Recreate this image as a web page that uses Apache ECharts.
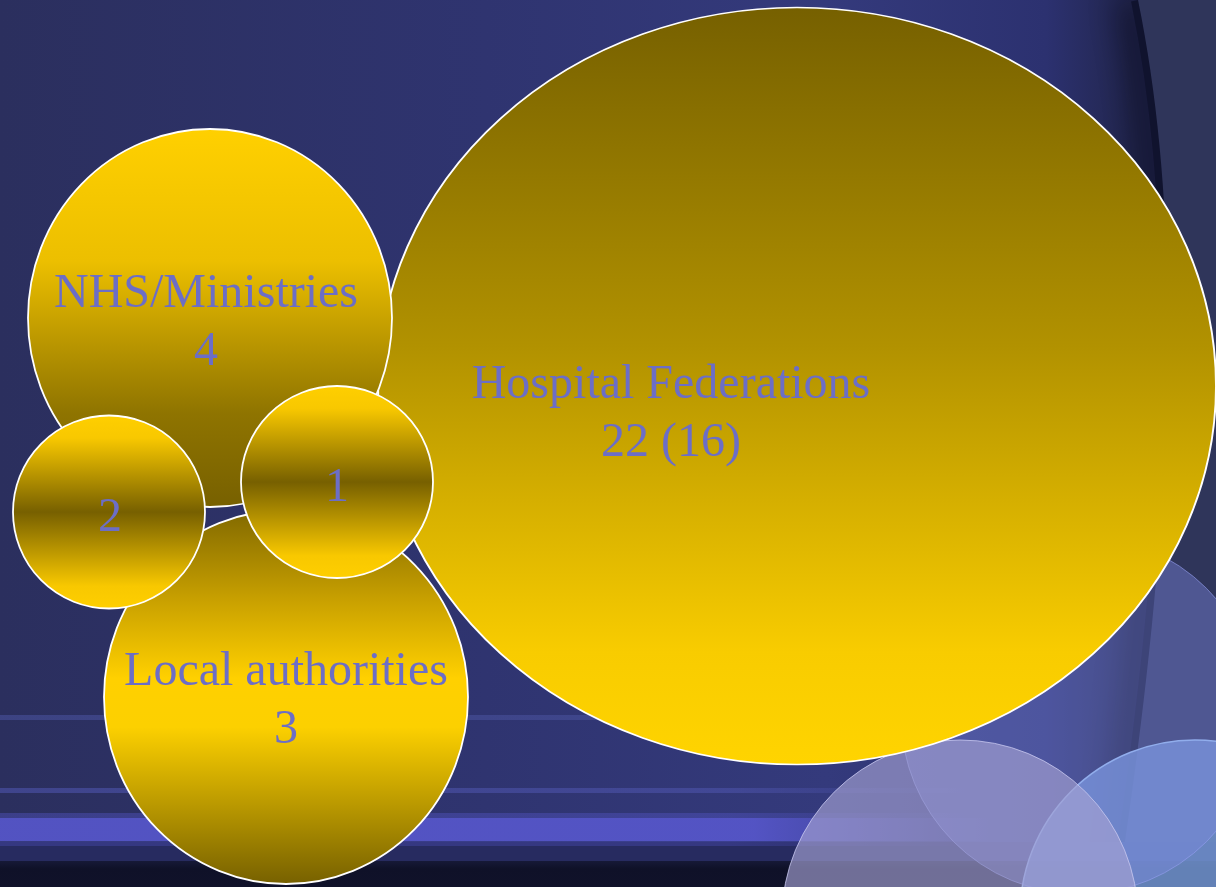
<!DOCTYPE html>
<html>
<head>
<meta charset="utf-8">
<title>Federations bubbles</title>
<script src="https://cdn.jsdelivr.net/npm/echarts@6/dist/echarts.min.js"></script>
<style>
html, body { margin: 0; padding: 0; background: #2c305f; }
#chart { width: 1216px; height: 887px; }
</style>
</head>
<body>
<div id="chart"></div>
<script>
// bubble data
var names = ['Hospital Federations', 'NHS/Ministries', 'Local authorities', '', ''];
var counts = [22, 4, 3, 2, 1];
var earlierCounts = [16, null, null, null, null];   // the "(16)" shown next to 22
// where each bubble sits on the hidden layout axes
var layoutX = [797, 210, 286, 109, 337];
var layoutY = [386, 318, 697, 512, 482];

// looks
var bubbleSize = [[838, 757], [364, 378], [364, 374], [192, 193], [192, 192]];
var labelOffset = [[-126, 28], [-4, 5], [0, 4], [1, 6], [0, 6]];

function vgrad(stops) {
    return new echarts.graphic.LinearGradient(0, 0, 0, 1, stops.map(function (s) {
        return { offset: s[0], color: s[1] };
    }));
}
function hfade(color, from, to) {
    return { type: 'linear', x: 0, y: 0, x2: 1, y2: 0, colorStops: [
        { offset: 0, color: color }, { offset: from, color: color },
        { offset: to, color: color.replace(/[\d.]+\)$/, '0)') }, { offset: 1, color: color.replace(/[\d.]+\)$/, '0)') }] };
}
var smallFill = [[0, '#ffcf00'], [0.12, '#f8c800'], [0.5, '#776000'], [0.88, '#f8c800'], [1, '#ffcf00']];
var fills = [
    vgrad([[0, '#766000'], [0.45, '#b29200'], [0.85, '#f8cc00'], [1, '#ffd400']]),
    vgrad([[0, '#ffd000'], [0.35, '#ecbf00'], [0.75, '#8f7400'], [1, '#776000']]),
    vgrad([[0, '#806800'], [0.24, '#c8a000'], [0.45, '#ffd000'], [0.58, '#fcd000'], [1, '#766000']]),
    vgrad(smallFill),
    vgrad(smallFill)
];

var dom = document.getElementById('chart');
var myChart = echarts.init(dom);

var bubbles = names.map(function (n, i) {
    return {
        name: n,
        value: [layoutX[i], layoutY[i], counts[i]],
        symbolSize: bubbleSize[i],
        itemStyle: { color: fills[i] },
        label: { offset: labelOffset[i] }
    };
});

// the dark curved fold on the right of the slide
var curve = { x1: 1138, y1: 0, cpx1: 1185, cpy1: 230, cpx2: 1175, cpy2: 520, x2: 1118, y2: 887 };
function curvePoints() {
    var pts = [];
    for (var k = 0; k <= 40; k++) {
        var t = k / 40, u = 1 - t;
        pts.push([
            u * u * u * curve.x1 + 3 * u * u * t * curve.cpx1 + 3 * u * t * t * curve.cpx2 + t * t * t * curve.x2,
            u * u * u * curve.y1 + 3 * u * u * t * curve.cpy1 + 3 * u * t * t * curve.cpy2 + t * t * t * curve.y2
        ]);
    }
    return pts;
}
var panelPts = curvePoints().concat([[1216, 887], [1216, 0]]);

// slide background pieces (decoration only)
var bgElements = [
    {
        type: 'rect', shape: { x: 0, y: 0, width: 1216, height: 887 },
        style: { fill: { type: 'linear', x: 0, y: 0, x2: 1, y2: 0, colorStops: [
            { offset: 0, color: '#2b2f5e' }, { offset: 0.4, color: '#2f3470' },
            { offset: 0.68, color: '#343a7c' }, { offset: 0.86, color: '#2c3170' },
            { offset: 0.93, color: '#22264e' }, { offset: 1, color: '#22264e' }] } }
    },
    {
        type: 'bezierCurve', shape: curve,
        style: { fill: null, stroke: '#10132e', lineWidth: 14,
                 shadowBlur: 30, shadowColor: 'rgba(5,6,20,0.9)', shadowOffsetX: -10 }
    },
    { type: 'polygon', shape: { points: panelPts }, style: { fill: '#2f355a' } },
    // thin bands near the bottom, fading out to the right
    { type: 'rect', shape: { x: 0, y: 715, width: 1216, height: 5 },
      style: { fill: hfade('rgba(72,80,155,0.6)', 0.55, 0.75) } },
    { type: 'rect', shape: { x: 0, y: 788, width: 1216, height: 5 },
      style: { fill: hfade('rgba(74,80,165,0.65)', 0.6, 0.8) } },
    { type: 'rect', shape: { x: 0, y: 842, width: 1216, height: 20 }, style: { fill: '#272b60' } },
    { type: 'rect', shape: { x: 0, y: 813, width: 1216, height: 5 },
      style: { fill: hfade('rgba(80,82,190,0.45)', 0.6, 0.8) } },
    { type: 'rect', shape: { x: 0, y: 818, width: 1216, height: 23 },
      style: { fill: hfade('rgba(86,86,202,0.92)', 0.62, 0.82) } },
    { type: 'rect', shape: { x: 0, y: 841, width: 1216, height: 5 },
      style: { fill: hfade('rgba(70,72,170,0.45)', 0.6, 0.8) } },
    { type: 'rect', shape: { x: 0, y: 861, width: 1216, height: 26 },
      style: { fill: { type: 'linear', x: 0, y: 0, x2: 0, y2: 1, colorStops: [
          { offset: 0, color: '#161937' }, { offset: 0.3, color: '#0f1128' }, { offset: 1, color: '#10122a' }] } } },
    // translucent circles in the corner
    { type: 'circle', shape: { cx: 1195, cy: 915, r: 175 },
      style: { fill: 'rgba(118,154,214,0.82)', stroke: '#a0c8f4', lineWidth: 1.5 } },
    { type: 'circle', shape: { cx: 1080, cy: 715, r: 179 },
      style: { fill: 'rgba(125,135,225,0.42)', stroke: 'rgba(150,160,240,0.6)', lineWidth: 1 } },
    { type: 'circle', shape: { cx: 960, cy: 918, r: 178 },
      style: { fill: 'rgba(165,162,210,0.65)', stroke: 'rgba(200,200,240,0.8)', lineWidth: 1 } }
];

option = {
    animation: false,
    graphic: { elements: bgElements },
    grid: { left: 0, right: 0, top: 0, bottom: 0 },
    xAxis: { type: 'value', min: 0, max: 1216, show: false },
    yAxis: { type: 'value', min: 0, max: 887, inverse: true, show: false },
    series: [{
        type: 'scatter',
        symbol: 'circle',
        clip: false,
        z: 5,
        itemStyle: { borderColor: '#ffffff', borderWidth: 1.8, opacity: 1 },
        label: {
            show: true,
            position: 'inside',
            fontFamily: 'Liberation Serif',
            fontSize: 48,
            lineHeight: 58,
            color: '#6c6ec6',
            align: 'center',
            formatter: function (p) {
                var i = p.dataIndex;
                var t = counts[i] + (earlierCounts[i] != null ? ' (' + earlierCounts[i] + ')' : '');
                return names[i] ? names[i] + '\n' + t : t;
            }
        },
        emphasis: { disabled: true },
        data: bubbles
    }]
};
myChart.setOption(option);
</script>
</body>
</html>
